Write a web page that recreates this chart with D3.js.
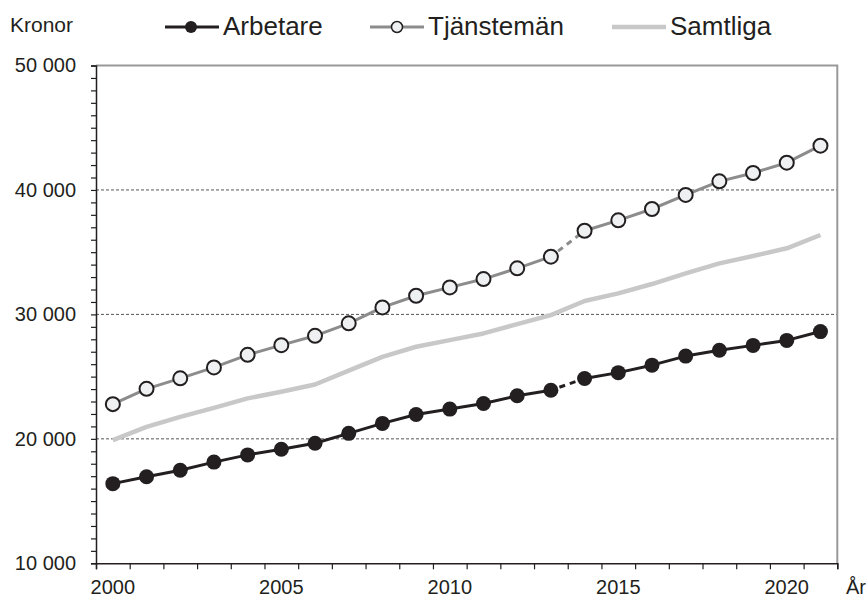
<!DOCTYPE html>
<head>
  <meta charset="utf-8">
  <script src="https://d3js.org/d3.v7.min.js"></script>
  <style>
    body { margin:0; background:#fff; }
    svg text { font-family: "Liberation Sans", Arial, sans-serif; fill:#231f20; }
  </style>
</head>
<body>
<script>
  var years = d3.range(2000, 2022);
  var arbetare = [16400, 16950, 17480, 18130, 18710, 19170, 19650, 20440, 21240, 21960, 22390,
                  22840, 23460, 23910, 24850, 25320, 25920, 26650, 27120, 27510, 27910, 28620];
  var tjansteman = [22790, 24020, 24860, 25740, 26750, 27530, 28280, 29280, 30560, 31500, 32170,
                    32840, 33700, 34640, 36720, 37560, 38470, 39600, 40690, 41360, 42190, 43560];
  var samtliga = [19900, 20960, 21770, 22490, 23250, 23780, 24370, 25480, 26590, 27400, 27930,
                  28470, 29220, 29940, 31080, 31690, 32440, 33300, 34100, 34690, 35310, 36380];
  var breakYear = 2014;   // serieskifte: streckad linje 2013-2014
  var yearLabels = [2000, 2005, 2010, 2015, 2020];
  var gridValues = [20000, 30000, 40000];
  var labelValues = [10000, 20000, 30000, 40000, 50000];

  var width = 868, height = 597;
  var svg = d3.select("body").append("svg")
    .attr("width", width).attr("height", height);

  var x = d3.scaleLinear().domain([1999.5, 2021.5]).range([96, 837.3]);
  var y = d3.scaleLinear().domain([10000, 50000]).range([563.3, 65.5]);

  var sv = d3.formatLocale({decimal: ",", thousands: " ", grouping: [3], currency: ["", " kr"]});
  var fmt = sv.format(",d");

  // rutnät
  svg.append("g").selectAll("line").data(gridValues).enter().append("line")
    .attr("x1", x(1999.5)).attr("x2", x(2021.5))
    .attr("y1", d => y(d)).attr("y2", d => y(d))
    .attr("stroke", "#555").attr("stroke-width", 1).attr("stroke-dasharray", "3,2");

  // ram topp/höger
  svg.append("path")
    .attr("d", "M" + x(1999.5) + "," + y(50000) + "H" + x(2021.5) + "V" + y(10000))
    .attr("fill", "none").attr("stroke", "#999").attr("stroke-width", 2);

  // y-axel
  var yAxis = d3.axisLeft(y)
    .tickValues(d3.range(10000, 50001, 1000))
    .tickSize(5).tickPadding(15)
    .tickFormat(d => labelValues.indexOf(d) >= 0 ? fmt(d) : "");
  var gy = svg.append("g").attr("transform", "translate(" + x(1999.5) + ",0)").call(yAxis);
  gy.select(".domain").attr("stroke", "#231f20").attr("stroke-width", 1.5);
  gy.selectAll(".tick line").attr("stroke", "#231f20").attr("stroke-width", 1.2);
  gy.selectAll(".tick text").attr("font-size", 20).attr("font-family", "Liberation Sans, Arial").attr("fill", "#231f20");

  // x-axel
  var xAxis = d3.axisBottom(x)
    .tickValues(d3.range(1999.5, 2022, 1))
    .tickSize(6).tickFormat("");
  var gx = svg.append("g").attr("transform", "translate(0," + y(10000) + ")").call(xAxis);
  gx.select(".domain").attr("stroke", "#231f20").attr("stroke-width", 1.5);
  gx.selectAll(".tick line").attr("stroke", "#231f20").attr("stroke-width", 1.2);

  svg.append("g").selectAll("text").data(yearLabels).enter().append("text")
    .attr("x", d => x(d)).attr("y", 594)
    .attr("text-anchor", "middle").attr("font-size", 20)
    .text(d => d);

  svg.append("text").attr("x", 846).attr("y", 594).attr("font-size", 20).text("År");
  svg.append("text").attr("x", 10).attr("y", 32).attr("font-size", 21).text("Kronor");

  var line = d3.line().x(d => x(d.year)).y(d => y(d.value));
  function rows(vals) { return years.map((yr, i) => ({year: yr, value: vals[i]})); }

  function drawSeries(vals, color, w, dashBreak) {
    var r = rows(vals);
    if (!dashBreak) {
      svg.append("path").datum(r).attr("d", line)
        .attr("fill", "none").attr("stroke", color).attr("stroke-width", w)
        .attr("stroke-linejoin", "round");
      return;
    }
    var before = r.filter(d => d.year < breakYear);
    var after = r.filter(d => d.year >= breakYear);
    var gap = r.filter(d => d.year === breakYear - 1 || d.year === breakYear);
    [before, after].forEach(function (seg) {
      svg.append("path").datum(seg).attr("d", line)
        .attr("fill", "none").attr("stroke", color).attr("stroke-width", w)
        .attr("stroke-linejoin", "round");
    });
    svg.append("path").datum(gap).attr("d", line)
      .attr("fill", "none").attr("stroke", color).attr("stroke-width", w)
      .attr("stroke-dasharray", "6,5").attr("stroke-dashoffset", -9);
  }

  drawSeries(samtliga, "#c8c8c8", 4.5, false);
  drawSeries(tjansteman, "#8c8c8c", 3, true);
  drawSeries(arbetare, "#231f20", 3, true);

  svg.append("g").selectAll("circle").data(rows(tjansteman)).enter().append("circle")
    .attr("cx", d => x(d.year)).attr("cy", d => y(d.value)).attr("r", 7)
    .attr("fill", "#eef0f2").attr("stroke", "#231f20").attr("stroke-width", 2);
  svg.append("g").selectAll("circle").data(rows(arbetare)).enter().append("circle")
    .attr("cx", d => x(d.year)).attr("cy", d => y(d.value)).attr("r", 7.5)
    .attr("fill", "#231f20");

  // legend
  var legend = [
    {name: "Arbetare", x0: 165, color: "#231f20", w: 3, marker: "fill"},
    {name: "Tjänstemän", x0: 370, color: "#8c8c8c", w: 3, marker: "open"},
    {name: "Samtliga", x0: 612, color: "#c8c8c8", w: 4.5, marker: null}
  ];
  var lg = svg.append("g").selectAll("g").data(legend).enter().append("g");
  lg.append("line")
    .attr("x1", d => d.x0).attr("x2", d => d.x0 + 54)
    .attr("y1", 27).attr("y2", 27)
    .attr("stroke", d => d.color).attr("stroke-width", d => d.w);
  lg.filter(d => d.marker === "fill").append("circle")
    .attr("cx", d => d.x0 + 26).attr("cy", 27).attr("r", 6).attr("fill", "#231f20");
  lg.filter(d => d.marker === "open").append("circle")
    .attr("cx", d => d.x0 + 27).attr("cy", 27).attr("r", 5.5)
    .attr("fill", "#eef0f2").attr("stroke", "#231f20").attr("stroke-width", 1.5);
  lg.append("text")
    .attr("x", d => d.x0 + 58).attr("y", 35).attr("font-size", 26)
    .text(d => d.name);
</script>
</body>
